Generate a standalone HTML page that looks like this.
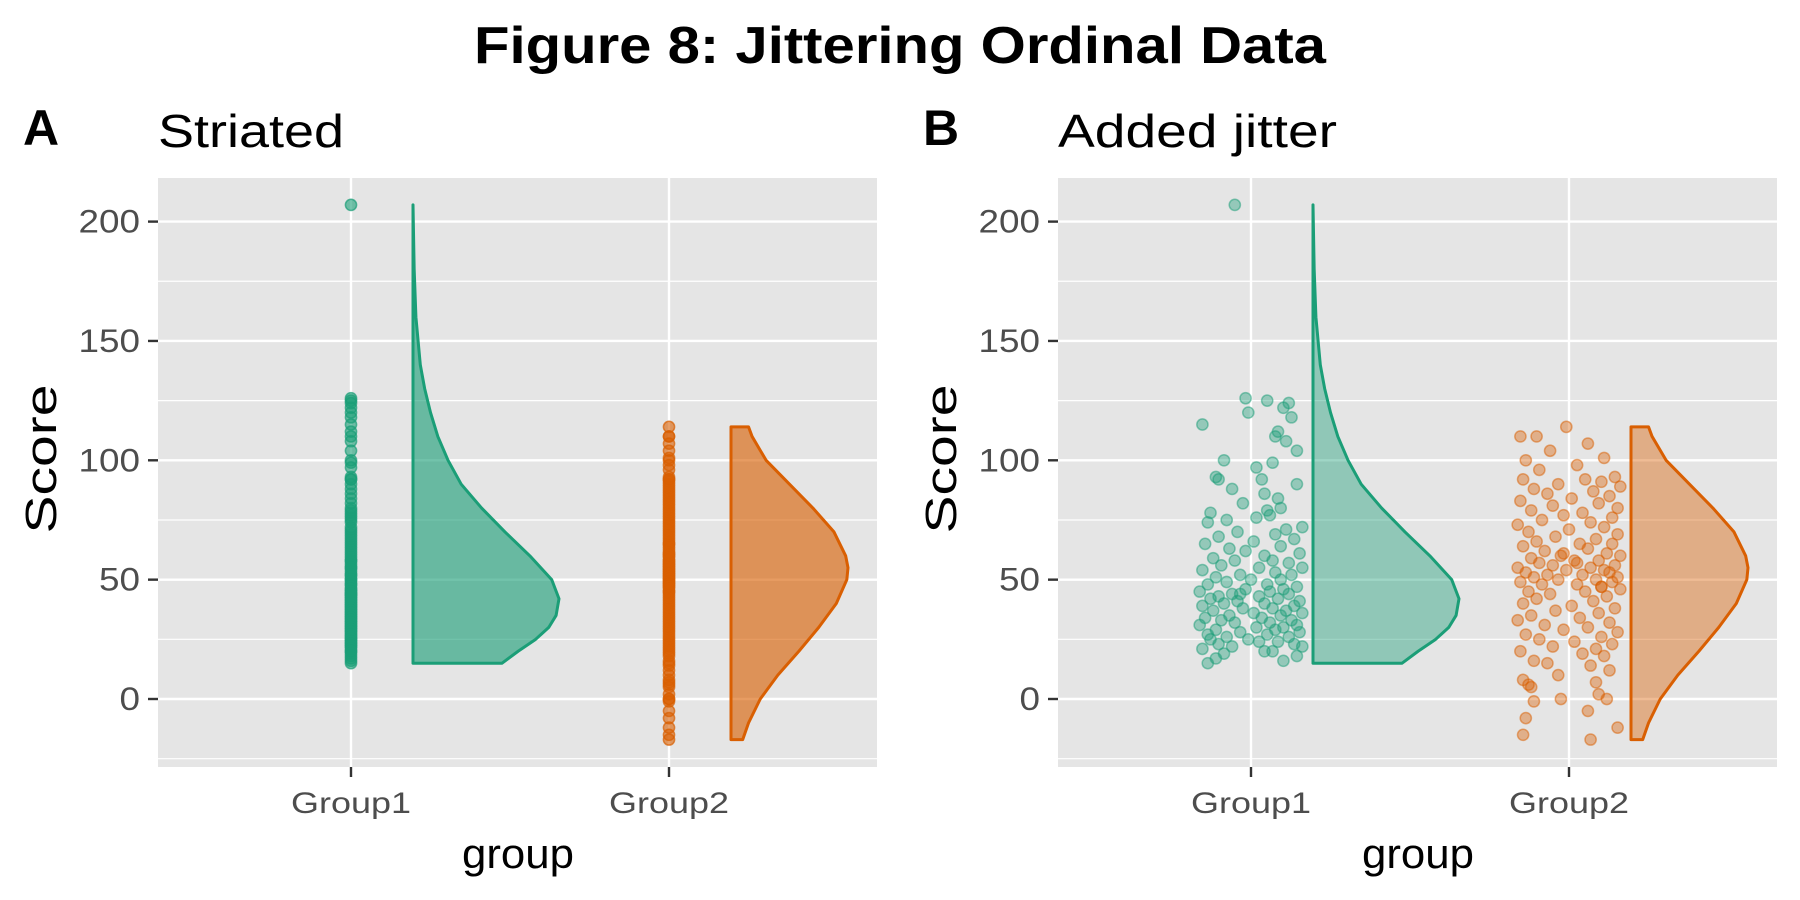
<!DOCTYPE html>
<html><head><meta charset="utf-8"><style>
body{margin:0;background:#fff}
svg{display:block;font-family:"Liberation Sans",Arial,sans-serif}
</style></head><body>
<svg id="fig" width="1800" height="900" viewBox="0 0 1800 900">
<text x="900" y="63" text-anchor="middle" font-size="52" font-weight="bold" textLength="852" lengthAdjust="spacingAndGlyphs">Figure 8: Jittering Ordinal Data</text>
</svg>
<script>
const groups = ["Group1","Group2"];
const yTicks = [0,50,100,150,200];
const yMinor = [-25,25,75,125,175];
const g1Values = [207,126,125,124,122,120,118,115,112,110,108,104,100,99,97,93,92,92,90,88,86,84,82,80,79,78,77,76,75,74,72,71,70,69,68,67,66,65,64,63,62,61,60,59,58,58,57,56,55,55,54,53,52,52,51,50,50,49,48,48,47,46,46,45,45,44,44,43,43,42,42,41,41,40,40,39,39,38,38,37,37,36,36,35,35,34,34,33,33,32,32,31,31,30,30,29,29,28,28,27,27,26,26,25,25,24,24,23,23,22,22,21,20,20,19,18,17,16,15,44];
const g1Jitter = [-0.06,-0.02,0.06,0.14,0.12,-0.01,0.15,-0.18,0.1,0.09,0.13,0.17,-0.1,0.08,0.02,-0.13,-0.12,0.04,0.17,-0.07,0.05,0.1,-0.03,0.11,0.06,-0.15,0.07,0.02,-0.09,-0.16,0.19,0.13,-0.05,0.09,-0.12,0.16,0.01,-0.17,0.11,-0.08,-0.02,0.18,0.05,-0.14,0.08,-0.06,0.14,-0.11,0.03,0.19,-0.18,0.09,-0.04,0.15,-0.13,0.0,0.11,-0.09,0.06,-0.16,0.17,-0.02,0.12,-0.19,0.07,-0.07,0.14,-0.12,0.03,0.1,-0.15,0.18,-0.05,0.05,-0.1,0.16,-0.18,0.08,-0.03,0.13,-0.14,0.01,0.19,-0.08,0.11,-0.17,0.04,0.15,-0.11,0.07,-0.06,0.17,-0.19,0.02,0.12,-0.13,0.09,-0.04,0.18,-0.16,0.06,-0.09,0.14,-0.01,-0.15,0.1,0.03,-0.12,0.16,-0.07,0.19,-0.18,0.08,0.05,-0.1,0.17,-0.13,0.12,-0.16,-0.04];
const g2Values = [114,110,110,107,104,101,100,98,96,93,92,92,91,90,89,88,87,86,85,84,83,82,81,80,79,78,77,76,75,74,73,72,71,70,69,68,67,66,65,65,64,63,62,61,60,60,59,58,58,57,56,56,55,55,54,54,53,53,52,52,51,51,50,50,49,49,48,48,47,46,45,45,44,43,42,41,40,39,38,37,36,35,34,33,32,31,30,29,28,27,26,25,24,23,22,21,20,19,18,16,15,14,12,10,8,7,6,5,2,0,0,-1,-5,-8,-12,-15,-17,57,61,47];
const g2Jitter = [-0.01,-0.18,-0.12,0.07,-0.07,0.13,-0.16,0.03,-0.11,0.17,0.06,-0.17,0.12,-0.04,0.19,-0.13,0.09,-0.08,0.15,0.01,-0.18,0.11,-0.06,0.18,-0.14,0.05,-0.02,0.16,-0.1,0.08,-0.19,0.13,0.0,-0.15,0.18,-0.05,0.1,-0.12,0.04,0.16,-0.17,0.07,-0.09,0.14,-0.03,0.19,-0.14,0.02,0.11,-0.11,0.17,-0.06,0.08,-0.19,0.13,-0.01,0.15,-0.16,0.05,-0.08,0.18,-0.13,0.1,-0.04,0.16,-0.18,0.03,-0.1,0.12,0.19,-0.15,0.06,-0.07,0.14,-0.12,0.09,-0.17,0.01,0.17,-0.05,0.11,-0.14,0.04,-0.19,0.15,-0.09,0.07,-0.02,0.18,-0.16,0.12,-0.11,0.02,0.16,-0.06,0.1,-0.18,0.05,0.13,-0.13,-0.08,0.08,0.15,-0.04,-0.17,0.1,-0.15,-0.14,0.11,-0.03,0.14,-0.13,0.07,-0.16,0.18,-0.17,0.08,0.03,-0.02,0.12];
const g1DensY = [15,20,25,30,35,42,50,60,70,80,90,100,110,120,130,140,150,160,180,207];
const g1DensW = [0.61,0.72,0.84,0.93,0.98,1.0,0.95,0.8,0.63,0.47,0.33,0.24,0.17,0.12,0.08,0.05,0.035,0.02,0.008,0];
const g2DensY = [-17,-10,0,10,20,30,40,50,55,60,70,80,90,100,110,114];
const g2DensW = [0.1,0.15,0.25,0.4,0.58,0.75,0.9,0.99,1.0,0.98,0.88,0.7,0.5,0.3,0.18,0.15];

const NS="http://www.w3.org/2000/svg";
const svg=document.getElementById('fig');
function mk(tag,attrs,parent){const e=document.createElementNS(NS,tag);for(const k in attrs)e.setAttribute(k,attrs[k]);(parent||svg).appendChild(e);return e;}
const colors=["#1b9e77","#d95f02"];
const yScale=v=>699-2.387*v;

function panel(ox,letter,sub,subW,jitter,fillOp,ptOp){
  const x0=ox+158,x1=ox+877;
  const xScale=i=>ox+351+i*318;
  const g=mk('g',{});
  
  
  let t=mk('text',{x:ox+23,y:145,'font-size':50,'font-weight':'bold'},g);t.textContent=letter;
  
  t=mk('text',{x:ox+158,y:147,'font-size':46,textLength:subW,lengthAdjust:'spacingAndGlyphs'},g);t.textContent=sub;
  
  const bg=mk('rect',{x:x0,y:178,width:x1-x0,height:589,fill:'#e5e5e5'},g);
  
  yMinor.forEach(v=>{const l=mk('line',{x1:x0,x2:x1,y1:yScale(v),y2:yScale(v),stroke:'#fff','stroke-width':1.2},g);
    });
  yTicks.forEach(v=>{const y=yScale(v);
    const l=mk('line',{x1:x0,x2:x1,y1:y,y2:y,stroke:'#fff','stroke-width':2.4},g);
    
    const tk=mk('line',{x1:x0-10,x2:x0,y1:y,y2:y,stroke:'#333','stroke-width':2.4},g);
    
    const s=String(v);
    const tl=mk('text',{x:x0-18,y:y+11,'text-anchor':'end','font-size':32,fill:'#4d4d4d',textLength:s.length*20.5,lengthAdjust:'spacingAndGlyphs'},g);tl.textContent=s;
    });
  groups.forEach((gn,i)=>{const x=xScale(i);
    const l=mk('line',{x1:x,x2:x,y1:178,y2:767,stroke:'#fff','stroke-width':2.4},g);
    
    const tk=mk('line',{x1:x,x2:x,y1:767,y2:777,stroke:'#333','stroke-width':2.4},g);
    
    const tl=mk('text',{x:x,y:813,'text-anchor':'middle','font-size':30,fill:'#4d4d4d',textLength:120,lengthAdjust:'spacingAndGlyphs'},g);tl.textContent=gn;
    });
  [[g1DensY,g1DensW,146],[g2DensY,g2DensW,117]].forEach(([ys,ws,maxW],i)=>{
    const bx=xScale(i)+62;
    let d='M'+bx+','+yScale(ys[0]);
    ys.forEach((v,k)=>{d+=' L'+(bx+ws[k]*maxW)+','+yScale(v);});
    d+=' L'+bx+','+yScale(ys[ys.length-1])+' Z';
    const p=mk('path',{d:d,fill:colors[i],'fill-opacity':fillOp,stroke:colors[i],'stroke-width':3,'stroke-linejoin':'round'},g);
    
  });
  [[g1Values,g1Jitter],[g2Values,g2Jitter]].forEach(([vals,jit],i)=>{
    vals.forEach((v,k)=>{
      const x=xScale(i)+(jitter?jit[k]*270:0);
      const c=mk('circle',{cx:x,cy:yScale(v),r:5.6,fill:colors[i],'fill-opacity':ptOp,stroke:colors[i],'stroke-opacity':ptOp+0.1,'stroke-width':1.5},g);
      
      
    });
  });
  t=mk('text',{x:ox+518,y:868,'text-anchor':'middle','font-size':42,textLength:112,lengthAdjust:'spacingAndGlyphs'},g);t.textContent='group';
  
  t=mk('text',{x:ox+56,y:459,'text-anchor':'middle','font-size':44,textLength:149,lengthAdjust:'spacingAndGlyphs',transform:'rotate(-90 '+(ox+56)+' 459)'},g);t.textContent='Score';
  
}
panel(0,'A','Striated',186,false,0.62,0.6);
panel(900,'B','Added jitter',279,true,0.42,0.4);
</script>
</body></html>
